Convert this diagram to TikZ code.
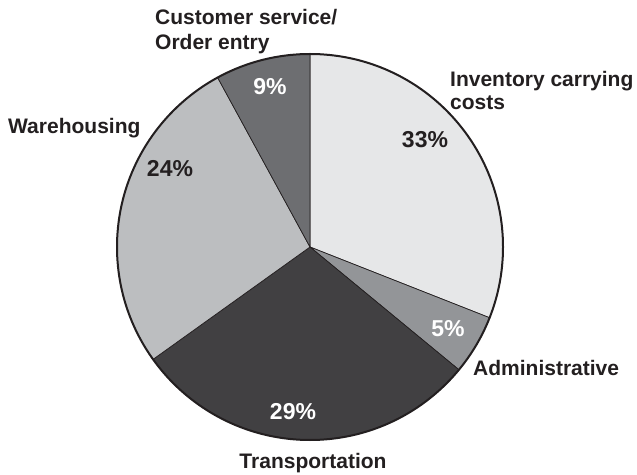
\documentclass[tikz,border=0pt]{standalone}
\usepackage{fontspec}
\setmainfont{Liberation Sans}
\definecolor{inv}{HTML}{E6E7E8}
\definecolor{adm}{HTML}{939598}
\definecolor{tra}{HTML}{414042}
\definecolor{war}{HTML}{BCBEC0}
\definecolor{cus}{HTML}{6D6E71}
\definecolor{ink}{HTML}{231F20}
\tikzset{
  lbl/.style={inner sep=0pt, text=ink, font=\fontsize{21}{25}\selectfont\bfseries},
  pct/.style={inner sep=0pt, font=\fontsize{23}{27}\selectfont\bfseries},
  slice/.style={draw=ink, line width=0.7pt, line join=round}
}
\begin{document}
\begin{tikzpicture}[x=1pt,y=1pt]
\useasboundingbox (0,0) rectangle (637,474);
\def\R{193}
\coordinate (c) at (310,227);
\filldraw[slice, fill=inv] (c) -- ++(90:\R) arc[start angle=90, end angle=-21.5, radius=\R] -- cycle;
\filldraw[slice, fill=adm] (c) -- ++(-21.5:\R) arc[start angle=-21.5, end angle=-39.5, radius=\R] -- cycle;
\filldraw[slice, fill=tra] (c) -- ++(-39.5:\R) arc[start angle=-39.5, end angle=-144.4, radius=\R] -- cycle;
\filldraw[slice, fill=war] (c) -- ++(-144.4:\R) arc[start angle=-144.4, end angle=-241.4, radius=\R] -- cycle;
\filldraw[slice, fill=cus] (c) -- ++(118.6:\R) arc[start angle=118.6, end angle=90, radius=\R] -- cycle;
\draw[ink, line width=2pt] (c) circle[radius=\R];
% labels
\node[lbl, anchor=base west] (inv1) at (450,387) {Inventory carrying};
\node[lbl, anchor=base west] (inv2) at (450,364) {costs};
\node[lbl, anchor=base west] (cus1) at (155,449) {Customer service/};
\node[lbl, anchor=base west] (cus2) at (155,424) {Order entry};
\node[lbl, anchor=base west] (war1) at (8,340) {Warehousing};
\node[lbl, anchor=base west] (adm1) at (473,98) {Administrative};
\node[lbl, anchor=base] (tra1) at (313,6) {Transportation};
% percentages
\node[pct, text=ink, anchor=base] (p33) at (425,326) {33\%};
\node[pct, text=white, anchor=base] (p9) at (270,379) {9\%};
\node[pct, text=white, anchor=base] (p5) at (448,137) {5\%};
\node[pct, text=ink, anchor=base] (p24) at (170,297) {24\%};
\node[pct, text=white, anchor=base] (p29) at (293,55) {29\%};
\end{tikzpicture}
\end{document}
